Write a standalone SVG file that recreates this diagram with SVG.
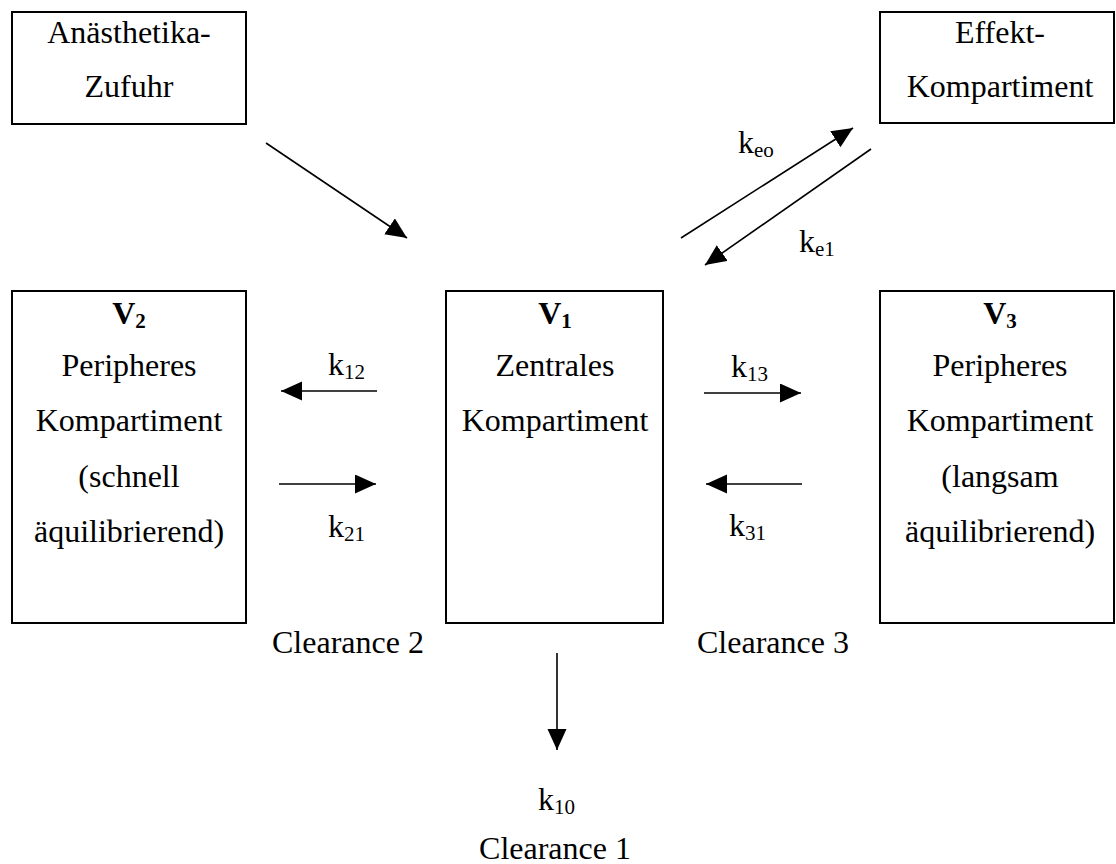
<svg xmlns="http://www.w3.org/2000/svg" width="1116" height="864" viewBox="0 0 1116 864">
<style>
text{font-family:"Liberation Serif","Times New Roman",serif;font-size:32px;fill:#000}
.c{text-anchor:middle}
.b{font-weight:bold}
.box{fill:#fff;stroke:#000;stroke-width:2}
.ln{stroke:#000;stroke-width:1.6;fill:none;marker-end:url(#ah)}
.sub{font-size:21px}
</style>
<defs>
<marker id="ah" markerUnits="userSpaceOnUse" markerWidth="22" markerHeight="20" refX="21" refY="9.5" orient="auto">
<path d="M0,0 L21,9.5 L0,19 Z" fill="#000"/>
</marker>
</defs>
<rect width="1116" height="864" fill="#fff"/>
<g id="n-zufuhr">
<rect class="box" x="12" y="12" width="234" height="112"/>
<text class="c" x="129" y="43">Anästhetika-</text>
<text class="c" x="129" y="97">Zufuhr</text>
</g>
<g id="n-effekt">
<rect class="box" x="880" y="12" width="234" height="111"/>
<text class="c" x="1000" y="43">Effekt-</text>
<text class="c" x="1000" y="97">Kompartiment</text>
</g>
<g id="n-v2">
<rect class="box" x="12" y="291" width="234" height="332"/>
<text class="c b" x="129" y="324">V<tspan class="sub" dy="4">2</tspan></text>
<text class="c" x="129" y="376">Peripheres</text>
<text class="c" x="129" y="431">Kompartiment</text>
<text class="c" x="129" y="487">(schnell</text>
<text class="c" x="129" y="542">äquilibrierend)</text>
</g>
<g id="n-v1">
<rect class="box" x="446" y="291" width="217" height="332"/>
<text class="c b" x="555" y="324">V<tspan class="sub" dy="4">1</tspan></text>
<text class="c" x="555" y="376">Zentrales</text>
<text class="c" x="555" y="431">Kompartiment</text>
</g>
<g id="n-v3">
<rect class="box" x="880" y="291" width="234" height="332"/>
<text class="c b" x="1000" y="324">V<tspan class="sub" dy="4">3</tspan></text>
<text class="c" x="1000" y="376">Peripheres</text>
<text class="c" x="1000" y="431">Kompartiment</text>
<text class="c" x="1000" y="487">(langsam</text>
<text class="c" x="1000" y="542">äquilibrierend)</text>
</g>
<g id="connectors">
<line class="ln" x1="266" y1="143" x2="407" y2="238"/>
<line class="ln" x1="681" y1="238" x2="853" y2="128"/>
<line class="ln" x1="871" y1="149" x2="705" y2="265"/>
<line class="ln" x1="377" y1="391" x2="281" y2="391"/>
<line class="ln" x1="279" y1="484" x2="376" y2="484"/>
<line class="ln" x1="704" y1="393" x2="801" y2="393"/>
<line class="ln" x1="802" y1="484" x2="706" y2="484"/>
<line class="ln" x1="557" y1="653" x2="557" y2="750"/>
</g>
<g id="labels">
<text x="738" y="153">k<tspan class="sub" dy="4">eo</tspan></text>
<text x="799" y="252">k<tspan class="sub" dy="4">e1</tspan></text>
<text x="328" y="375">k<tspan class="sub" dy="4">12</tspan></text>
<text x="328" y="537">k<tspan class="sub" dy="4">21</tspan></text>
<text x="731" y="377">k<tspan class="sub" dy="4">13</tspan></text>
<text x="729" y="536">k<tspan class="sub" dy="4">31</tspan></text>
<text x="538" y="810">k<tspan class="sub" dy="4">10</tspan></text>
<text x="272" y="653">Clearance 2</text>
<text x="697" y="653">Clearance 3</text>
<text class="c" x="555" y="859">Clearance 1</text>
</g>
</svg>
